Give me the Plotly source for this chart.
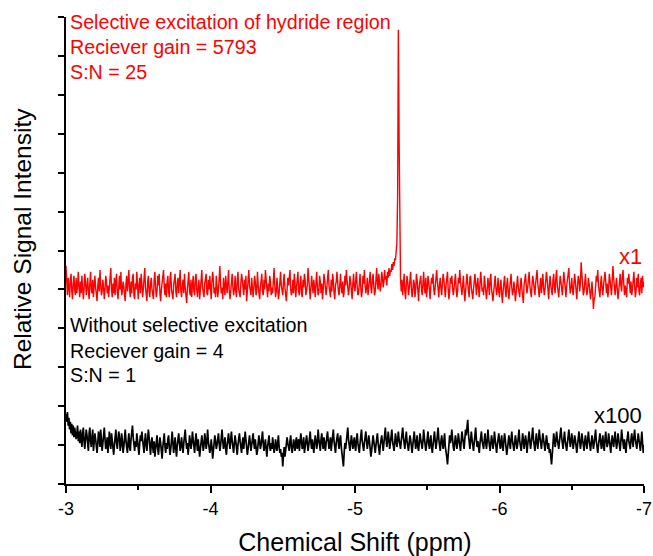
import numpy as np
import plotly.graph_objects as go

# Chemical shift axis (ppm), -3 to -7 in 0.005 ppm steps
shift_start, shift_end = -3.0, -7.0

# Red trace: selective excitation of hydride region (x1)
red_selective = [
    5.60, 5.20, 4.85, 5.30, 5.05, 4.80, 5.25, 5.40, 4.95, 4.75, 5.15, 5.35, 5.00, 4.85, 5.30, 4.90, 5.10, 5.45, 5.05, 4.80,
    5.20, 4.90, 5.35, 5.10, 4.75, 5.00, 5.40, 5.20, 4.85, 5.05, 5.30, 4.95, 4.75, 5.15, 5.45, 5.00, 4.90, 5.25, 4.80, 5.10,
    5.35, 5.05, 4.80, 4.70, 5.10, 5.30, 4.95, 5.50, 5.15, 4.85, 4.95, 5.25, 5.05, 4.75, 5.00, 5.35, 5.20, 4.90, 5.10, 4.80,
    5.05, 5.40, 5.55, 5.00, 4.80, 5.15, 4.90, 5.30, 4.85, 5.20, 5.40, 4.95, 4.75, 5.05, 5.35, 5.00, 5.45, 4.85, 4.95, 5.20,
    5.10, 4.85, 4.70, 5.15, 5.35, 4.95, 5.25, 5.50, 5.00, 4.80, 5.20, 4.90, 5.30, 5.40, 4.85, 4.75, 5.15, 5.00, 5.45, 4.90,
    4.75, 5.10, 5.30, 4.90, 5.40, 5.15, 4.80, 5.00, 5.25, 5.55, 5.05, 4.85, 4.70, 5.20, 5.35, 4.95, 4.80, 5.15, 5.30, 5.00,
    4.90, 4.75, 5.25, 5.45, 5.05, 4.80, 4.95, 5.35, 5.10, 5.40, 4.90, 4.70, 5.00, 5.20, 5.35, 5.50, 5.05, 4.85, 5.15, 4.80,
    5.20, 5.35, 4.95, 4.80, 5.30, 5.45, 5.00, 4.85, 4.75, 5.10, 5.25, 5.40, 4.95, 4.80, 5.15, 5.30, 4.90, 5.25, 5.50, 4.95,
    4.80, 5.10, 5.25, 4.90, 5.40, 5.05, 4.85, 4.65, 5.00, 5.30, 5.45, 4.95, 4.85, 5.25, 4.80, 5.10, 5.35, 4.95, 4.85, 5.30,
    5.40, 5.00, 4.80, 5.05, 5.25, 4.75, 4.95, 5.35, 5.50, 5.05, 4.95, 4.80, 5.15, 5.30, 5.40, 4.90, 4.85, 5.25, 5.00, 5.35,
    4.95, 4.75, 5.20, 5.45, 5.25, 4.90, 5.05, 4.80, 5.35, 5.15, 4.80, 5.00, 5.40, 5.60, 5.10, 4.90, 5.05, 4.75, 5.30, 5.15,
    4.85, 5.35, 5.05, 4.90, 5.20, 5.50, 4.95, 4.75, 4.95, 5.30, 5.40, 5.05, 4.85, 5.00, 5.35, 4.95, 4.80, 5.25, 5.45, 5.00,
    4.90, 4.80, 5.15, 5.40, 5.25, 4.95, 4.85, 5.25, 5.00, 5.35, 4.70, 4.95, 5.25, 5.50, 5.10, 4.95, 4.85, 5.30, 5.05, 4.80,
    5.05, 5.35, 5.20, 4.85, 4.95, 5.45, 5.10, 4.90, 4.75, 5.05, 5.30, 5.40, 4.95, 4.85, 5.25, 5.00, 5.50, 5.25, 4.90, 4.80,
    5.15, 4.95, 5.35, 5.20, 4.85, 5.05, 4.90, 5.40, 5.55, 5.10, 4.80, 4.95, 5.30, 5.05, 4.75, 4.90, 5.35, 5.45, 5.10, 4.95,
    4.85, 5.20, 5.40, 5.05, 4.90, 4.70, 5.00, 5.30, 5.10, 5.35, 5.50, 5.00, 4.85, 4.95, 5.25, 4.90, 5.40, 5.15, 4.80, 5.05,
    5.30, 5.45, 4.95, 4.85, 5.15, 5.35, 4.90, 4.80, 5.25, 5.05, 5.40, 5.25, 4.85, 4.95, 5.10, 5.55, 5.20, 4.90, 4.75, 5.05,
    5.35, 5.10, 4.90, 5.25, 4.95, 4.80, 5.20, 5.45, 5.05, 4.85, 4.95, 5.35, 5.20, 4.90, 5.15, 4.75, 5.00, 5.40, 5.25, 5.05,
    4.85, 5.05, 5.35, 5.50, 5.10, 4.90, 4.80, 5.25, 4.95, 5.40, 5.25, 4.90, 4.75, 5.10, 5.20, 5.45, 5.10, 4.95, 4.85, 5.30,
    5.40, 5.05, 4.90, 5.20, 4.80, 4.95, 5.35, 5.10, 5.50, 5.25, 4.95, 4.85, 5.05, 5.35, 5.20, 4.90, 4.75, 5.15, 5.40, 5.05,
    4.95, 5.25, 5.45, 5.10, 4.85, 4.90, 5.20, 5.40, 5.05, 4.80, 4.95, 5.35, 5.15, 5.50, 5.10, 4.90, 5.05, 5.30, 4.85, 5.10,
    5.35, 5.45, 5.05, 4.90, 5.25, 5.40, 5.10, 4.85, 4.95, 5.35, 5.55, 5.15, 5.00, 5.40, 5.25, 4.95, 5.10, 5.45, 5.30, 5.05,
    5.20, 5.50, 5.25, 5.35, 5.10, 5.45, 5.30, 5.55, 5.35, 5.50, 5.45, 5.65, 5.50, 5.70, 5.60, 5.80, 5.75, 5.95, 6.20, 7.40,
    11.67, 8.90, 5.90, 5.30, 4.95, 5.25, 4.85, 5.15, 5.40, 4.95, 4.75, 5.10, 5.35, 5.20, 4.85, 5.00, 5.30, 5.45, 5.05, 4.80,
    4.95, 5.25, 5.15, 4.80, 5.00, 5.40, 5.25, 4.95, 4.70, 5.10, 5.25, 5.35, 5.00, 4.85, 5.15, 5.45, 5.05, 4.90, 5.30, 4.80,
    5.00, 5.35, 5.20, 4.90, 4.75, 5.10, 5.30, 5.15, 5.40, 5.00, 4.85, 5.05, 5.35, 5.50, 5.20, 4.95, 4.80, 5.15, 5.30, 5.00,
    4.85, 5.15, 5.40, 5.25, 4.95, 4.80, 5.10, 5.25, 5.45, 5.00, 4.75, 4.95, 5.30, 5.15, 5.35, 5.05, 4.85, 5.00, 5.25, 5.40,
    5.05, 4.80, 4.95, 5.30, 5.15, 5.50, 5.20, 4.95, 4.85, 5.10, 5.35, 5.00, 4.70, 4.95, 5.25, 5.40, 5.15, 5.00, 4.80, 5.30,
    5.35, 5.05, 4.95, 4.75, 5.00, 5.25, 5.40, 5.15, 4.85, 5.10, 5.30, 5.00, 4.80, 5.15, 5.45, 5.20, 4.95, 5.05, 4.85, 5.35,
    5.15, 4.95, 4.75, 5.00, 5.30, 5.10, 4.85, 5.25, 5.40, 5.00, 4.80, 4.70, 4.95, 5.15, 5.35, 5.05, 4.85, 5.00, 5.30, 4.95,
    4.80, 5.10, 5.25, 4.90, 4.65, 4.95, 5.15, 5.35, 5.00, 4.80, 5.10, 5.30, 4.95, 4.75, 5.00, 5.25, 5.40, 5.05, 4.85, 4.95,
    5.20, 5.00, 4.70, 4.90, 5.25, 5.35, 5.05, 4.95, 4.80, 5.15, 5.30, 5.00, 4.85, 4.65, 5.10, 5.25, 5.40, 5.10, 4.90, 5.05,
    5.30, 5.45, 5.10, 4.90, 4.80, 5.10, 5.35, 5.20, 4.95, 4.85, 5.15, 5.40, 5.50, 5.15, 4.95, 4.80, 5.10, 5.30, 4.90, 5.15,
    5.40, 5.05, 4.85, 5.00, 5.25, 5.45, 5.25, 4.90, 4.75, 5.10, 5.35, 5.10, 4.95, 4.85, 5.25, 5.40, 5.05, 4.90, 5.30, 5.50,
    5.10, 4.90, 4.80, 5.10, 5.35, 5.20, 4.95, 4.85, 5.15, 5.45, 5.25, 4.95, 4.80, 5.10, 5.25, 5.40, 5.55, 5.10, 4.90, 5.05,
    5.30, 5.00, 4.85, 5.15, 5.40, 5.20, 4.90, 4.75, 5.10, 5.35, 5.25, 4.95, 5.15, 5.70, 5.40, 5.05, 4.85, 4.95, 5.25, 5.40,
    5.05, 4.85, 5.00, 5.30, 5.15, 4.80, 4.75, 4.95, 5.20, 4.90, 4.50, 4.75, 4.80, 5.05, 5.35, 5.20, 5.50, 5.10, 4.90, 4.80,
    5.15, 5.35, 5.00, 4.85, 5.10, 5.30, 5.45, 5.20, 4.90, 5.15, 4.80, 5.00, 5.40, 5.25, 5.05, 4.85, 5.20, 5.60, 5.30, 4.95,
    4.85, 5.10, 5.30, 5.00, 4.75, 4.95, 5.25, 5.40, 5.10, 4.95, 5.35, 5.50, 5.15, 4.85, 5.10, 4.95, 4.80, 5.30, 5.15, 5.40,
    5.05, 4.90, 5.20, 4.85, 5.00, 5.35, 5.45, 5.10, 4.80, 4.95, 5.30, 5.05, 5.40, 4.95, 4.85, 5.15, 5.30, 4.90, 5.35, 5.05,
    5.20,
]

# Black trace: without selective excitation (x100)
black_plain = [
    1.80, 1.60, 1.85, 1.50, 1.70, 1.40, 1.60, 1.30, 1.55, 1.25, 1.50, 1.20, 1.45, 1.35, 1.15, 1.30, 1.50, 1.10, 1.35, 1.05,
    1.40, 1.20, 0.95, 1.30, 1.45, 1.10, 0.90, 1.15, 1.40, 1.25, 1.00, 0.85, 1.30, 1.45, 1.10, 0.95, 1.20, 1.40, 0.85, 1.05,
    1.30, 1.15, 0.90, 0.80, 1.05, 1.35, 1.20, 0.95, 1.40, 1.15, 0.85, 1.05, 1.30, 1.45, 1.15, 0.90, 1.00, 1.20, 0.80, 1.25,
    1.35, 1.05, 0.90, 1.30, 1.15, 0.85, 0.75, 1.00, 1.25, 1.40, 1.05, 0.90, 1.15, 1.35, 1.20, 0.85, 1.00, 1.30, 1.10, 0.80,
    0.95, 1.25, 1.40, 1.10, 0.95, 0.80, 1.10, 1.30, 0.95, 0.85, 1.15, 1.35, 1.50, 1.20, 0.95, 0.85, 1.10, 0.95, 1.30, 1.15,
    0.85, 0.75, 1.05, 1.25, 1.10, 1.35, 1.15, 0.95, 0.80, 1.10, 1.30, 1.00, 0.85, 1.15, 1.40, 1.20, 0.95, 0.75, 1.05, 1.20,
    0.95, 0.80, 1.10, 0.70, 0.90, 1.05, 1.25, 0.90, 0.75, 1.00, 1.20, 1.05, 0.85, 0.65, 0.95, 1.15, 1.30, 0.95, 0.80, 1.05,
    0.90, 1.15, 1.25, 0.95, 0.75, 0.90, 1.20, 1.35, 1.05, 0.80, 1.00, 1.20, 0.90, 0.70, 1.00, 1.15, 1.30, 1.05, 0.85, 1.00,
    1.20, 0.95, 0.80, 1.05, 1.25, 1.40, 1.10, 0.90, 1.05, 0.75, 0.95, 1.25, 1.10, 0.90, 1.05, 1.35, 1.15, 0.95, 0.80, 1.10,
    1.30, 1.05, 0.85, 1.15, 0.95, 0.70, 0.90, 1.15, 1.25, 1.05, 0.85, 1.00, 1.30, 1.15, 0.90, 1.05, 1.40, 1.10, 0.95, 0.80,
    0.90, 1.15, 0.95, 0.65, 0.85, 1.05, 1.25, 1.10, 0.90, 1.00, 1.20, 1.30, 1.05, 0.85, 1.00, 1.25, 1.40, 1.10, 0.90, 1.05,
    1.20, 0.90, 0.75, 1.00, 1.15, 1.30, 1.05, 0.90, 1.15, 1.35, 1.10, 0.95, 0.80, 1.05, 1.25, 1.10, 0.90, 0.75, 1.00, 1.20,
    1.30, 1.10, 0.95, 0.80, 1.05, 1.20, 0.90, 1.10, 1.35, 1.15, 0.95, 0.75, 0.90, 1.10, 1.25, 1.05, 0.85, 1.00, 1.20, 1.30,
    1.05, 0.90, 1.15, 0.95, 0.75, 0.85, 1.05, 1.25, 1.10, 0.90, 1.00, 1.20, 1.35, 1.05, 0.85, 1.00, 1.15, 0.90, 0.70, 0.95,
    1.15, 1.25, 0.95, 0.85, 1.05, 0.90, 1.20, 1.05, 0.80, 0.90, 1.15, 1.00, 0.85, 1.05, 1.25, 0.95, 0.80, 0.90, 0.70, 0.80,
    0.45, 0.75, 0.95, 0.70, 0.85, 1.05, 1.20, 1.05, 0.90, 0.85, 1.10, 1.25, 0.95, 0.80, 0.95, 1.15, 1.00, 0.85, 1.10, 1.20,
    0.90, 1.00, 1.15, 0.85, 1.05, 1.30, 1.10, 0.90, 1.00, 1.20, 0.80, 0.95, 1.15, 1.25, 1.05, 0.85, 1.00, 1.20, 1.35, 1.05,
    0.90, 1.15, 1.00, 0.80, 1.05, 1.25, 1.10, 0.90, 1.05, 1.40, 1.15, 0.95, 0.85, 1.15, 1.30, 1.05, 0.90, 1.20, 1.00, 0.85,
    1.05, 1.25, 1.35, 1.10, 0.90, 1.05, 1.20, 0.85, 1.00, 1.25, 1.40, 1.10, 0.95, 0.80, 1.05, 1.20, 1.30, 1.05, 0.90, 1.15,
    1.25, 0.95, 0.75, 0.65, 0.45, 0.80, 1.05, 0.90, 1.15, 1.30, 1.45, 1.15, 0.95, 0.85, 1.05, 1.25, 1.10, 0.90, 1.05, 1.20,
    0.95, 0.85, 1.15, 1.30, 1.05, 0.90, 0.80, 1.05, 1.25, 1.40, 1.10, 0.95, 0.85, 1.05, 1.20, 1.35, 1.10, 0.90, 1.05, 1.25,
    1.10, 0.90, 0.70, 0.85, 1.05, 1.25, 1.10, 0.95, 0.80, 1.00, 1.20, 1.30, 1.05, 0.90, 0.75, 1.00, 1.15, 1.25, 1.05, 0.85,
    1.05, 1.30, 1.45, 1.15, 0.95, 1.10, 1.35, 1.15, 0.90, 1.05, 1.25, 1.40, 1.10, 0.95, 0.85, 1.05, 1.30, 1.15, 0.95, 1.10,
    1.35, 1.15, 1.00, 0.90, 1.10, 1.30, 1.45, 1.20, 1.00, 0.90, 1.15, 1.35, 1.10, 0.95, 0.85, 1.05, 1.25, 1.15, 0.95, 0.80,
    1.00, 1.20, 1.35, 1.10, 0.90, 1.05, 1.25, 0.95, 0.85, 1.05, 1.30, 1.15, 0.95, 0.90, 1.10, 1.40, 1.20, 1.00, 0.85, 1.00,
    1.20, 1.35, 1.05, 0.90, 1.10, 1.25, 0.95, 0.80, 1.00, 1.20, 1.35, 1.10, 0.90, 1.05, 1.30, 1.45, 1.15, 0.95, 0.85, 1.10,
    1.25, 1.05, 0.90, 1.10, 1.30, 0.95, 0.85, 0.70, 0.50, 0.75, 1.10, 1.25, 1.05, 1.15, 1.40, 1.10, 0.95, 0.85, 1.05, 1.25,
    1.10, 0.90, 1.05, 1.30, 1.15, 0.95, 0.85, 1.10, 1.35, 1.20, 1.00, 0.90, 1.15, 1.40, 1.25, 1.45, 1.65, 1.30, 1.00, 0.90,
    1.10, 1.35, 1.15, 0.95, 0.85, 1.05, 1.30, 1.45, 1.15, 0.95, 1.10, 0.90, 0.80, 1.05, 1.25, 1.35, 1.10, 0.95, 0.90, 1.15,
    1.30, 1.05, 0.90, 1.10, 1.40, 1.15, 0.95, 0.85, 1.05, 1.25, 1.10, 0.90, 1.05, 1.35, 1.15, 0.95, 0.80, 1.00, 1.15, 1.30,
    1.10, 0.90, 1.05, 1.25, 0.95, 0.85, 1.10, 1.30, 1.15, 0.95, 0.75, 0.90, 1.10, 1.25, 1.05, 0.90, 1.15, 1.35, 1.10, 0.95,
    0.85, 1.05, 1.25, 1.10, 0.90, 1.00, 1.20, 1.40, 1.10, 0.95, 0.85, 1.05, 1.30, 1.15, 0.90, 1.05, 1.25, 1.10, 0.80, 1.00,
    1.20, 1.35, 1.10, 0.90, 1.05, 1.25, 1.45, 1.15, 0.95, 0.85, 1.10, 1.30, 1.05, 0.90, 1.15, 1.40, 1.20, 1.00, 0.90, 1.10,
    1.30, 1.15, 0.95, 0.85, 1.05, 1.25, 1.10, 0.90, 1.05, 0.80, 0.90, 0.70, 0.50, 0.75, 1.10, 1.30, 1.15, 0.95, 1.10, 1.35,
    1.15, 1.00, 0.90, 1.10, 1.30, 1.45, 1.20, 1.00, 0.90, 1.15, 1.35, 1.10, 0.95, 0.85, 1.05, 1.25, 1.40, 1.15, 0.95, 1.10,
    1.30, 1.10, 0.90, 1.05, 1.25, 1.15, 0.95, 0.80, 1.00, 1.20, 1.35, 1.10, 0.90, 1.05, 1.30, 1.15, 0.95, 0.85, 1.10, 1.25,
    1.05, 0.90, 1.10, 1.35, 1.15, 0.95, 0.85, 1.05, 1.25, 1.10, 0.90, 1.05, 1.30, 1.40, 1.10, 0.95, 0.80, 1.00, 1.20, 1.30,
    1.10, 0.90, 1.05, 1.25, 0.95, 0.85, 1.15, 1.35, 1.10, 0.95, 1.05, 1.30, 1.15, 0.90, 0.80, 1.05, 1.25, 1.10, 0.95, 1.15,
    1.35, 1.10, 0.90, 1.05, 1.30, 1.15, 0.95, 0.85, 1.10, 1.40, 1.20, 1.00, 0.90, 1.15, 0.95, 0.80, 1.05, 1.25, 1.35, 1.10,
    0.95, 0.90, 1.15, 1.30, 1.10, 0.95, 1.20, 1.40, 1.15, 1.00, 0.90, 1.10, 1.30, 1.15, 0.95, 0.85, 1.10, 1.35, 1.05, 0.80,
    1.00,
]

assert len(red_selective) == 801, len(red_selective)
assert len(black_plain) == 801, len(black_plain)

shift_ppm = np.round(np.linspace(shift_start, shift_end, len(red_selective)), 4)

x_tick_vals = [-3, -4, -5, -6, -7]
x_tick_text = ["-3", "-4", "-5", "-6", "-7"]

red_labels = ["Selective excitation of hydride region", "Reciever gain = 5793", "S:N = 25"]
black_labels = ["Without selective excitation", "Reciever gain = 4", "S:N = 1"]
red_scale_label = "x1"
black_scale_label = "x100"
x_title = "Chemical Shift (ppm)"
y_title = "Relative Signal Intensity"

FONT = "Liberation Sans, Arial, sans-serif"
RED = "#ff0000"

fig = go.Figure()
fig.add_trace(go.Scatter(x=shift_ppm, y=red_selective, mode="lines",
                         line=dict(color=RED, width=1.4), showlegend=False))
fig.add_trace(go.Scatter(x=shift_ppm, y=black_plain, mode="lines",
                         line=dict(color="#000000", width=1.7), showlegend=False))

ann = []
for lbl, yp in zip(red_labels, [0.989, 0.936, 0.882]):
    ann.append(dict(text=lbl, x=0.003, y=yp, xref="paper", yref="paper",
                    xanchor="left", yanchor="middle", showarrow=False,
                    font=dict(family=FONT, size=19.7, color=RED)))
for lbl, yp in zip(black_labels, [0.340, 0.285, 0.233]):
    ann.append(dict(text=lbl, x=0.003, y=yp, xref="paper", yref="paper",
                    xanchor="left", yanchor="middle", showarrow=False,
                    font=dict(family=FONT, size=19.7, color="#000000")))
ann.append(dict(text=red_scale_label, x=1.0, y=0.488, xref="paper", yref="paper",
                xanchor="right", yanchor="middle", showarrow=False,
                font=dict(family=FONT, size=22, color=RED)))
ann.append(dict(text=black_scale_label, x=1.0, y=0.146, xref="paper", yref="paper",
                xanchor="right", yanchor="middle", showarrow=False,
                font=dict(family=FONT, size=22, color="#000000")))
ann.append(dict(text=y_title, x=-0.0761, y=0.5246, xref="paper", yref="paper",
                xanchor="center", yanchor="middle", showarrow=False, textangle=-90,
                font=dict(family=FONT, size=24.5, color="#000000")))

fig.update_layout(
    width=653, height=556,
    margin=dict(l=66, r=9, t=17, b=72),
    paper_bgcolor="white", plot_bgcolor="white",
    font=dict(family=FONT, color="#000000"),
    annotations=ann,
    xaxis=dict(
        range=[shift_start, shift_end], tickvals=x_tick_vals, ticktext=x_tick_text,
        ticks="outside", ticklen=7, tickwidth=2, tickcolor="black",
        minor=dict(dtick=0.5, tick0=-3, ticks="outside", ticklen=4, tickwidth=2, tickcolor="black"),
        showline=True, linecolor="black", linewidth=2, mirror=False,
        showgrid=False, zeroline=False, automargin=False,
        tickfont=dict(family=FONT, size=18), ticklabelstandoff=0,
        title=dict(text=x_title, font=dict(family=FONT, size=25), standoff=25),
    ),
    yaxis=dict(
        range=[0, 12], dtick=1, tick0=0,
        ticks="outside", ticklen=6, tickwidth=2, tickcolor="black",
        showticklabels=False, automargin=False,
        showline=True, linecolor="black", linewidth=2,
        showgrid=False, zeroline=False,
    ),
)

fig.write_html("out.html")
